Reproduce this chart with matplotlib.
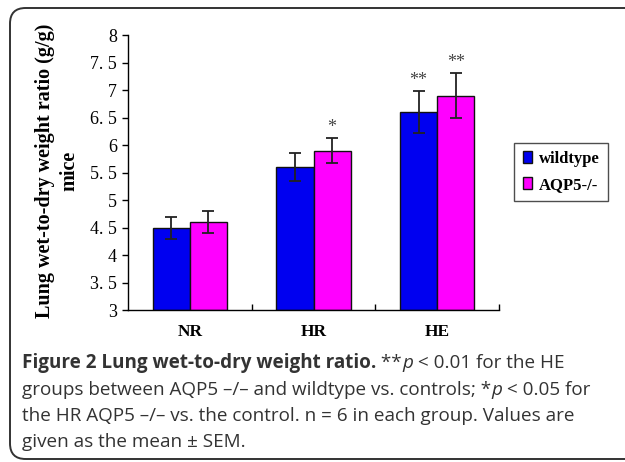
import matplotlib
matplotlib.use("Agg")
import matplotlib.pyplot as plt
from matplotlib.patches import FancyBboxPatch, Patch
import numpy as np

categories = ["NR", "HR", "HE"]
series_names = ["wildtype", "AQP5-/-"]
wildtype = [4.5, 5.6, 6.6]
wildtype_err = [0.2, 0.26, 0.38]
aqp5 = [4.6, 5.9, 6.9]
aqp5_err = [0.2, 0.23, 0.41]
wildtype_sig = ["", "", "**"]
aqp5_sig = ["", "*", "**"]
yticks = [3, 3.5, 4, 4.5, 5, 5.5, 6, 6.5, 7, 7.5, 8]
ytick_labels = ["3", "3. 5", "4", "4. 5", "5", "5. 5", "6", "6. 5", "7", "7. 5", "8"]

W, H = 625, 462
fig = plt.figure(figsize=(W / 100, H / 100), dpi=100)
serif = "Liberation Serif"

ax = fig.add_axes([128 / W, 1 - 310 / H, (499 - 128) / W, (310 - 35) / H])
x = np.arange(len(categories))
bw = 0.3
blue = "#0000F0"
mag = "#FF00FF"
ekw = dict(elinewidth=1.3, capthick=1.3, ecolor="#222222")
ax.bar(x - bw / 2, [v - 3 for v in wildtype], bw, bottom=3, color=blue, edgecolor="#111111",
       linewidth=1.0, yerr=wildtype_err, capsize=4.5, error_kw=ekw, label=series_names[0], zorder=2)
ax.bar(x + bw / 2, [v - 3 for v in aqp5], bw, bottom=3, color=mag, edgecolor="#111111",
       linewidth=1.0, yerr=aqp5_err, capsize=4.5, error_kw=ekw, label=series_names[1], zorder=2)

for i in range(len(categories)):
    if wildtype_sig[i]:
        ax.text(x[i] - bw / 2, wildtype[i] + wildtype_err[i] + 0.03, wildtype_sig[i], ha="center",
                va="bottom", fontsize=13, family=serif, color="#444444")
    if aqp5_sig[i]:
        ax.text(x[i] + bw / 2, aqp5[i] + aqp5_err[i] + 0.03, aqp5_sig[i], ha="center",
                va="bottom", fontsize=13, family=serif, color="#444444")

ax.set_xlim(-0.5, 2.5)
ax.set_ylim(3, 8)
ax.set_yticks(yticks)
ax.set_yticklabels(ytick_labels, family=serif, fontsize=13)
ax.set_xticks(x)
ax.set_xticklabels(categories, family=serif, fontsize=12.5, fontweight="bold")
ax.tick_params(axis="x", length=0, pad=10)
ax.set_xticks([0.5, 1.5, 2.5], minor=True)
ax.tick_params(axis="x", which="minor", direction="in", length=4, width=1)
ax.tick_params(axis="y", direction="out", length=4, width=1, pad=4)
for s in ["top", "right"]:
    ax.spines[s].set_visible(False)
for s in ["left", "bottom"]:
    ax.spines[s].set_linewidth(1.0)

fig.text(57 / W, 1 - 171 / H, "Lung wet-to-dry weight ratio (g/g)\nmice", rotation=90,
         ha="center", va="center", multialignment="center", family=serif,
         fontsize=14.5, fontweight="bold", linespacing=1.3)

handles = [Patch(facecolor=blue, edgecolor="#111111"), Patch(facecolor=mag, edgecolor="#111111")]
leg = fig.legend(handles, series_names, loc="center", bbox_to_anchor=(561 / W, 1 - 172 / H),
                 prop={"family": serif, "weight": "bold", "size": 12}, frameon=True,
                 fancybox=False, edgecolor="#222222", handlelength=0.55, handleheight=0.75,
                 handletextpad=0.4, borderpad=0.5, labelspacing=0.6)
leg.get_frame().set_linewidth(1.0)

# outer rounded frame
frame = FancyBboxPatch((10 / W, 3 / H), 700 / W, (459 - 8) / H,
                       boxstyle="round,pad=0,rounding_size=0.025", transform=fig.transFigure,
                       fill=False, edgecolor="#333333", linewidth=1.4, mutation_aspect=W / H)
fig.patches.append(frame)

# caption
cap_font = "Open Sans"
cs = 13.6
lines = [
    [("Figure 2 Lung wet-to-dry weight ratio.", "bold", "normal"), (" **", "normal", "normal"),
     ("p", "normal", "italic"), (" < 0.01 for the HE", "normal", "normal")],
    [("groups between AQP5 \u2013/\u2013 and wildtype vs. controls; *", "normal", "normal"),
     ("p", "normal", "italic"), (" < 0.05 for", "normal", "normal")],
    [("the HR AQP5 \u2013/\u2013 vs. the control. n = 6 in each group. Values are", "normal", "normal")],
    [("given as the mean \u00b1 SEM.", "normal", "normal")],
]
line_y = [363, 390, 416, 442]
renderer = fig.canvas.get_renderer()
for parts, yy in zip(lines, line_y):
    xpos = 22 / W
    for txt, wt, st in parts:
        t = fig.text(xpos, 1 - yy / H, txt, family=cap_font, fontsize=cs, fontweight=wt,
                     fontstyle=st, ha="left", va="center", color="#333333")
        bb = t.get_window_extent(renderer=renderer)
        xpos += bb.width / W

fig.savefig("out.png", dpi=100)
